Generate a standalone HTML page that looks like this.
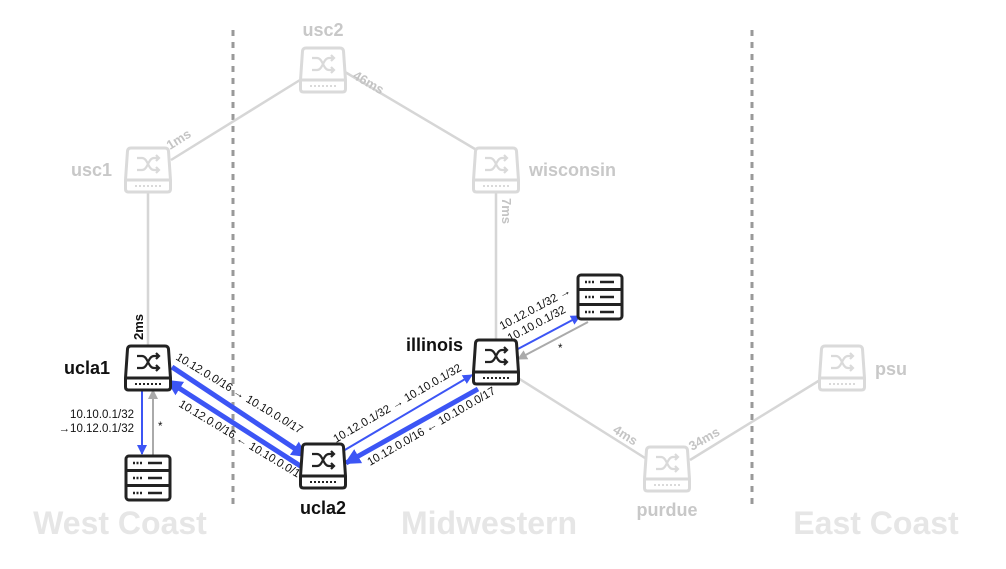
<!DOCTYPE html>
<html><head><meta charset="utf-8"><style>
html,body{margin:0;padding:0;background:#fff;}
svg{display:block;font-family:"Liberation Sans",Arial,sans-serif;}
</style></head><body>
<svg width="1006" height="569" viewBox="0 0 1006 569" xmlns="http://www.w3.org/2000/svg">
<defs>
<g id="sw">
<path d="M-17,-22 H17 Q20,-22 20.5,-19 L22.5,10 V19 Q22.5,22 19.5,22 H-19.5 Q-22.5,22 -22.5,19 V10 L-20.5,-19 Q-20,-22 -17,-22 Z" fill="#fff" stroke-width="3"/>
<line x1="-22.5" y1="10" x2="22.5" y2="10" stroke-width="3"/>
<g stroke-width="2" stroke-dasharray="2 2"><line x1="-13" y1="16" x2="13" y2="16"/></g>
<path d="M-11,-12 H-6 C0,-12 0,0 6,0 H11 M-11,0 H-6 C0,0 0,-12 6,-12 H11 M8,-15 L11,-12 L8,-9 M8,-3 L11,0 L8,3" fill="none" stroke-width="2.2"/>
</g>
<g id="srv">
<rect x="-22" y="-22" width="44" height="44" rx="3" fill="#fff" stroke-width="3"/>
<line x1="-22" y1="-7.5" x2="22" y2="-7.5" stroke-width="3"/>
<line x1="-22" y1="7.5" x2="22" y2="7.5" stroke-width="3"/>
<g stroke-width="2.5"><line x1="-15" y1="-15" x2="-6" y2="-15" stroke-dasharray="2 1.5"/><line x1="0" y1="-15" x2="14" y2="-15"/>
<line x1="-15" y1="0" x2="-6" y2="0" stroke-dasharray="2 1.5"/><line x1="0" y1="0" x2="14" y2="0"/>
<line x1="-15" y1="15" x2="-6" y2="15" stroke-dasharray="2 1.5"/><line x1="0" y1="15" x2="14" y2="15"/></g>
</g>
<marker id="bt" markerWidth="18" markerHeight="18" refX="14" refY="9" orient="auto" markerUnits="userSpaceOnUse"><path d="M0,1 L16,9 L0,17 Z" fill="#3c55f5"/></marker>
<marker id="bs" markerWidth="12" markerHeight="12" refX="9" refY="6" orient="auto" markerUnits="userSpaceOnUse"><path d="M0,1 L10,6 L0,11 Z" fill="#3c55f5"/></marker>
<marker id="gt" markerWidth="12" markerHeight="12" refX="9" refY="6" orient="auto" markerUnits="userSpaceOnUse"><path d="M0,1 L10,6 L0,11 Z" fill="#aaa"/></marker>
</defs>

<g stroke="#999" stroke-width="3" stroke-dasharray="6 6">
<line x1="233" y1="30" x2="233" y2="510"/>
<line x1="752" y1="30" x2="752" y2="510"/>
</g>
<g font-size="32" font-weight="bold" fill="#e6e6e6" text-anchor="middle">
<text x="120" y="534">West Coast</text>
<text x="489" y="534">Midwestern</text>
<text x="876" y="534">East Coast</text>
</g>

<g stroke="#d6d6d6" stroke-width="2.5">
<line x1="171" y1="160" x2="300" y2="80"/>
<line x1="345" y1="72" x2="480" y2="152"/>
<line x1="148" y1="192" x2="148" y2="346"/>
<line x1="496" y1="192" x2="496" y2="340"/>
<line x1="518" y1="378" x2="645" y2="458"/>
<line x1="690" y1="460" x2="820" y2="380"/>
</g>
<g font-size="13" font-weight="bold" fill="#c4c4c4">
<text transform="translate(170,150) rotate(-32)">1ms</text>
<text transform="translate(352,78) rotate(30)">46ms</text>
<text transform="translate(502,198) rotate(90)">7ms</text>
<text transform="translate(612,432) rotate(32)">4ms</text>
<text transform="translate(692,451) rotate(-30)">34ms</text>
</g>
<text transform="translate(143,340) rotate(-90)" font-size="13" font-weight="bold" fill="#111">2ms</text>

<g stroke="#dadada"><use href="#sw" x="323" y="70"/><use href="#sw" x="148" y="170"/><use href="#sw" x="496" y="170"/><use href="#sw" x="667" y="469"/><use href="#sw" x="842" y="368"/></g>
<g font-size="18" font-weight="bold" fill="#c8c8c8">
<text x="323" y="36" text-anchor="middle">usc2</text>
<text x="112" y="176" text-anchor="end">usc1</text>
<text x="529" y="176">wisconsin</text>
<text x="667" y="516" text-anchor="middle">purdue</text>
<text x="875" y="375">psu</text>
</g>

<line x1="172" y1="367" x2="306" y2="456" stroke="#3c55f5" stroke-width="5" marker-end="url(#bt)"/>
<line x1="302" y1="467" x2="168" y2="381" stroke="#3c55f5" stroke-width="5" marker-end="url(#bt)"/>
<line x1="338" y1="454" x2="472" y2="375" stroke="#3c55f5" stroke-width="2" marker-end="url(#bs)"/>
<line x1="478" y1="389" x2="346" y2="463" stroke="#3c55f5" stroke-width="5" marker-end="url(#bt)"/>
<line x1="516" y1="350" x2="580" y2="316" stroke="#3c55f5" stroke-width="2" marker-end="url(#bs)"/>
<line x1="588" y1="322" x2="518" y2="359" stroke="#aaa" stroke-width="2" marker-end="url(#gt)"/>
<line x1="142" y1="390" x2="142" y2="454" stroke="#3c55f5" stroke-width="2" marker-end="url(#bs)"/>
<line x1="153" y1="455" x2="153" y2="390" stroke="#aaa" stroke-width="2" marker-end="url(#gt)"/>

<g font-size="11.5" fill="#111">
<text transform="translate(175,359) rotate(31)">10.12.0.0/16 → 10.10.0.0/17</text>
<text transform="translate(178,406) rotate(31)">10.12.0.0/16 ← 10.10.0.0/17</text>
<text transform="translate(336,443) rotate(-30)">10.12.0.1/32 → 10.10.0.1/32</text>
<text transform="translate(370,466) rotate(-30)">10.12.0.0/16 ← 10.10.0.0/17</text>
<text transform="translate(502,330) rotate(-28)">10.12.0.1/32 →</text>
<text transform="translate(510,342) rotate(-28)">10.10.0.1/32</text>
<text x="134" y="418" text-anchor="end">10.10.0.1/32</text>
<text x="134" y="432" text-anchor="end">→10.12.0.1/32</text>
<text x="158" y="430">*</text>
<text x="558" y="352">*</text>
</g>

<g stroke="#222"><use href="#sw" x="148" y="368"/><use href="#sw" x="496" y="362"/><use href="#sw" x="323" y="466"/>
<use href="#srv" x="148" y="478"/><use href="#srv" x="600" y="297"/></g>
<g font-size="18" font-weight="bold" fill="#111">
<text x="110" y="374" text-anchor="end">ucla1</text>
<text x="463" y="351" text-anchor="end">illinois</text>
<text x="323" y="514" text-anchor="middle">ucla2</text>
</g>
</svg>
</body></html>
